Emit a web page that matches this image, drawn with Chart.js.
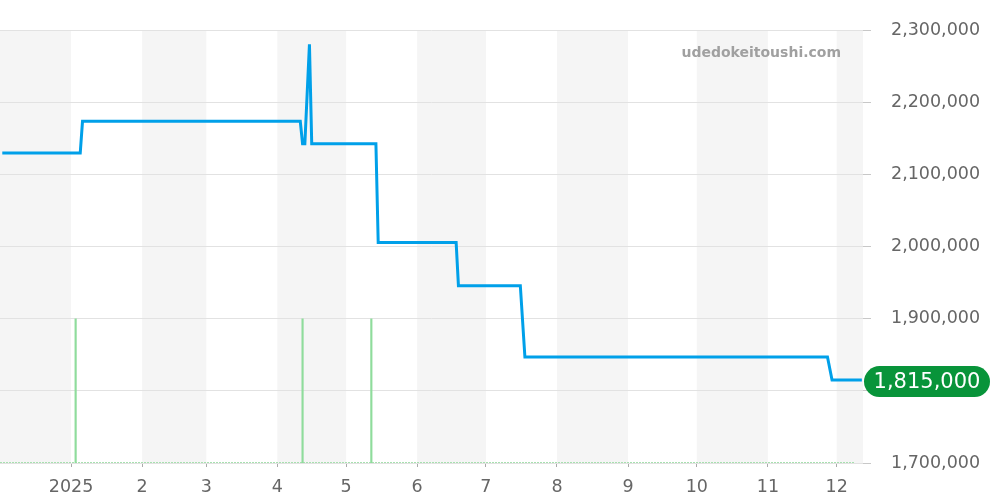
<!DOCTYPE html>
<html>
<head>
<meta charset="utf-8">
<script src="https://cdn.jsdelivr.net/npm/chart.js@4.4.1/dist/chart.umd.min.js"></script>
<style>
  body { margin: 0; background: #fff; }
  #wrap { width: 1000px; height: 500px; position: relative; }
</style>
</head>
<body>
<div id="wrap"><canvas id="priceChart"></canvas></div>
<script>
"use strict";

// 価格の推移（日付と価格）
const priceDates = ['2024-12-02', '2025-01-05', '2025-01-06', '2025-04-11', '2025-04-12', '2025-04-13',
    '2025-04-15', '2025-04-16', '2025-05-14', '2025-05-15', '2025-06-18', '2025-06-19',
    '2025-07-16', '2025-07-18', '2025-11-27', '2025-11-29', '2025-12-12'];
const priceValues = [2130000, 2130000, 2174000, 2174000, 2143000, 2143000,
    2281000, 2143000, 2143000, 2006000, 2006000, 1946000,
    1946000, 1847000, 1847000, 1815000, 1815000];

// 出来高（緑の縦線）
const volumeDates = ['2025-01-03', '2025-04-12', '2025-05-12'];
const volumeValues = [1, 1, 1];

// 軸の目盛り
const tickMonths = ['2025-01', '2025-02', '2025-03', '2025-04', '2025-05', '2025-06',
    '2025-07', '2025-08', '2025-09', '2025-10', '2025-11', '2025-12'];
const tickLabels = ['2025', '2', '3', '4', '5', '6', '7', '8', '9', '10', '11', '12'];
const shadedMonths = ['2024-12', '2025-02', '2025-04', '2025-06', '2025-08', '2025-10', '2025-12'];

const latestLabel = '1,815,000';
const siteName = 'udedokeitoushi.com';

function toTime(s) {
    const p = s.split('-').map(Number);
    return Date.UTC(p[0], p[1] - 1, p[2] || 1);
}
function monthEnd(s) {
    const p = s.split('-').map(Number);
    return Date.UTC(p[0], p[1], 1);
}

const xMin = Date.UTC(2024, 11, 1);
const xMax = Date.UTC(2025, 11, 12, 12);

const priceData = priceDates.map((d, i) => ({ x: toTime(d), y: priceValues[i] }));
const volumeData = volumeDates.map((d, i) => ({ x: toTime(d), y: volumeValues[i] }));

// 月ごとの背景の帯
const bandPlugin = {
    id: 'bands',
    beforeDraw(chart) {
        const { ctx, chartArea, scales } = chart;
        ctx.save();
        ctx.fillStyle = '#f5f5f5';
        shadedMonths.forEach(m => {
            let x1 = scales.x.getPixelForValue(toTime(m));
            let x2 = scales.x.getPixelForValue(monthEnd(m));
            x1 = Math.max(x1, chartArea.left);
            x2 = Math.min(x2, chartArea.right);
            if (x2 > x1) ctx.fillRect(x1, chartArea.top, x2 - x1, chartArea.bottom - chartArea.top);
        });
        ctx.restore();
    },
    beforeDatasetsDraw(chart) {
        const { ctx, chartArea } = chart;
        ctx.save();
        ctx.font = 'bold 14px "DejaVu Sans"';
        ctx.fillStyle = '#a0a0a0';
        ctx.textAlign = 'right';
        ctx.textBaseline = 'middle';
        ctx.fillText(siteName, chartArea.right - 22, 53);
        ctx.restore();
    },
    afterDraw(chart) {
        const { ctx, chartArea, scales } = chart;
        const y = scales.y.getPixelForValue(priceValues[priceValues.length - 1]) + 1.5;
        const x = chartArea.right + 1;
        const w = 126, h = 31, r = h / 2;
        ctx.save();
        ctx.fillStyle = '#08943a';
        ctx.beginPath();
        ctx.moveTo(x + r, y - r);
        ctx.lineTo(x + w - r, y - r);
        ctx.arc(x + w - r, y, r, -Math.PI / 2, Math.PI / 2);
        ctx.lineTo(x + r, y + r);
        ctx.arc(x + r, y, r, Math.PI / 2, Math.PI * 1.5);
        ctx.closePath();
        ctx.fill();
        ctx.font = '21px "DejaVu Sans"';
        ctx.fillStyle = '#ffffff';
        ctx.textAlign = 'center';
        ctx.textBaseline = 'middle';
        ctx.fillText(latestLabel, x + w / 2, y + 1);
        ctx.restore();
    }
};

const ctx = document.getElementById('priceChart').getContext('2d');
const priceChart = new Chart(ctx, {
    type: 'line',
    data: {
        datasets: [
            {
                data: priceData,
                borderColor: '#00a0e9',
                borderWidth: 3,
                pointRadius: 0,
                tension: 0,
                yAxisID: 'y',
                order: 1
            },
            {
                type: 'bar',
                data: volumeData,
                backgroundColor: '#8fdc9c',
                barThickness: 1.5,
                yAxisID: 'y2',
                order: 2
            },
            {
                data: [{ x: xMin, y: 0 }, { x: toTime('2025-12-09'), y: 0 }],
                borderColor: '#a8e0b0',
                borderWidth: 2,
                borderDash: [2, 1],
                pointRadius: 0,
                yAxisID: 'y2',
                order: 3
            }
        ]
    },
    options: {
        responsive: true,
        maintainAspectRatio: false,
        animation: false,
        layout: { padding: { top: 30, left: 0, right: 0, bottom: 0 } },
        plugins: {
            legend: { display: false },
            tooltip: { enabled: false }
        },
        scales: {
            x: {
                type: 'linear',
                min: xMin,
                max: xMax,
                offset: false,
                afterBuildTicks: scale => {
                    scale.ticks = tickMonths.map(m => ({ value: toTime(m) }));
                },
                afterFit: scale => { scale.height = 37; },
                ticks: {
                    autoSkip: false,
                    maxRotation: 0,
                    padding: 10,
                    color: '#666',
                    font: { family: '"DejaVu Sans"', size: 17.5 },
                    callback: (v, i) => tickLabels[i]
                },
                grid: {
                    offset: false,
                    drawOnChartArea: false,
                    drawTicks: true,
                    tickLength: 4,
                    tickColor: '#aaa'
                },
                border: { display: false }
            },
            y: {
                position: 'right',
                min: 1700000,
                max: 2300000,
                afterFit: scale => { scale.width = 137; },
                ticks: {
                    stepSize: 100000,
                    padding: 20,
                    color: '#666',
                    font: { family: '"DejaVu Sans"', size: 17.5 },
                    callback: v => v.toLocaleString('en-US')
                },
                grid: {
                    color: '#e2e2e2',
                    tickLength: 8,
                    tickColor: '#c8c8c8'
                },
                border: { display: false }
            },
            y2: {
                display: false,
                min: 0,
                max: 3
            }
        }
    },
    plugins: [bandPlugin]
});
</script>
</body>
</html>
